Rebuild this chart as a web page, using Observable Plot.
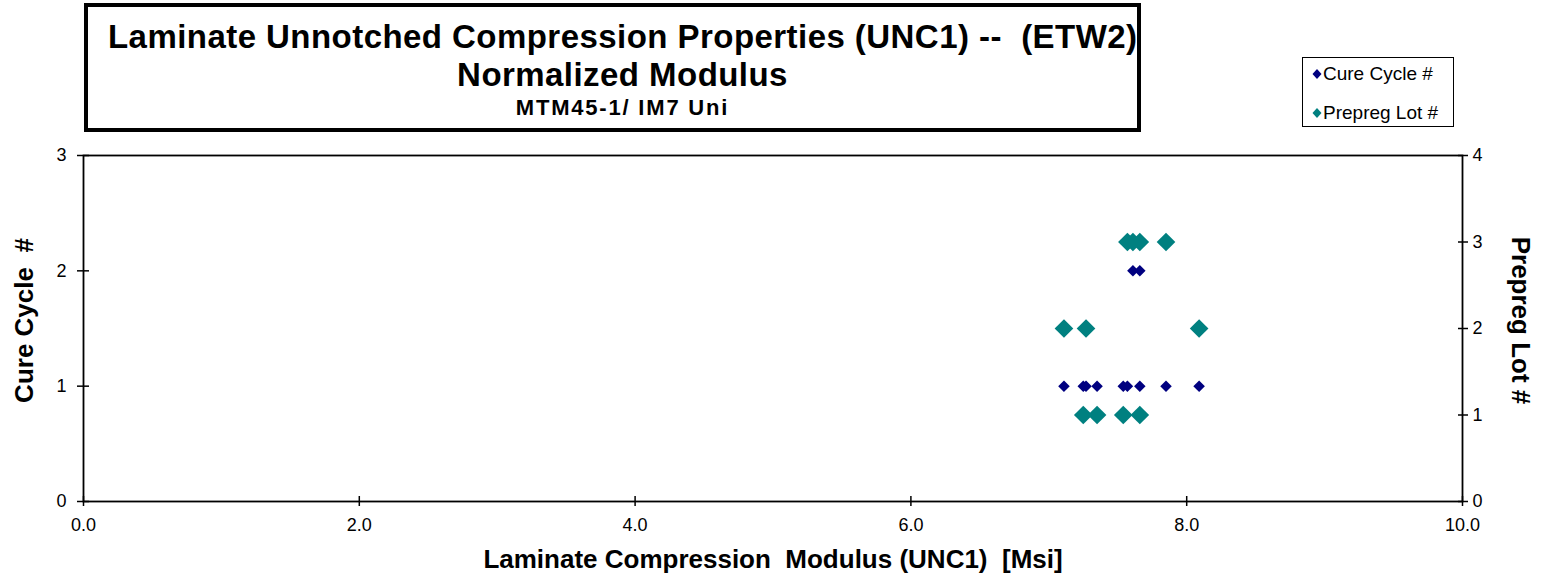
<!DOCTYPE html>
<html><head><meta charset="utf-8">
<script src="https://cdn.jsdelivr.net/npm/d3@7"></script>
<script src="https://cdn.jsdelivr.net/npm/@observablehq/plot@0.6"></script>
<style>
body{margin:0;background:#fff;font-family:"Liberation Sans",Arial,sans-serif;color:#000}
#wrap{position:relative;width:1547px;height:584px;overflow:hidden}
#chart{position:absolute;left:0;top:0}
#title{position:absolute;left:84px;top:3px;width:1049px;height:121px;border:4px solid #000;font-weight:bold;text-align:center}
#title div{position:absolute;left:20px;right:0;white-space:pre}
#t1{top:10px;font-size:33px;line-height:40px;letter-spacing:0.45px}
#t2{top:48px;font-size:33px;line-height:40px;letter-spacing:0.45px}
#t3{top:88px;font-size:22px;line-height:26px;letter-spacing:1.8px}
#legend{position:absolute;left:1302px;top:57px;width:150px;height:68px;border:1.5px solid #000;font-size:19px}
#legend .row{position:absolute;left:9px;white-space:pre;display:flex;align-items:center;gap:1px}
</style></head>
<body><div id="wrap">
<div id="title"><div id="t1">Laminate Unnotched Compression Properties (UNC1) --  (ETW2)</div><div id="t2">Normalized Modulus</div><div id="t3">MTM45-1/ IM7 Uni</div></div>
<div id="legend"></div>
</div>
<script>
// Data
const modulus    = [7.11, 7.25, 7.27, 7.35, 7.54, 7.57, 7.61, 7.66, 7.66, 7.85, 8.09];
const cureCycle  = [1, 1, 1, 1, 1, 1, 2, 2, 1, 1, 1];
const prepregLot = [2, 1, 2, 1, 1, 3, 3, 3, 1, 3, 2];
const xTicks = [0, 2, 4, 6, 8, 10];
const cureTicks = [0, 1, 2, 3];
const lotTicks = [0, 1, 2, 3, 4];
const seriesNames = ["Cure Cycle #", "Prepreg Lot #"];
const seriesColors = ["#000080", "#008080"];

const rows = modulus.map((m, i) => ({m, cure: cureCycle[i], lot: prepregLot[i]}));
const lotToY = v => v * 3 / 4;

const chart = Plot.plot({
  width: 1547, height: 584,
  marginTop: 155, marginBottom: 83, marginLeft: 83, marginRight: 85,
  x: {domain: [0, 10]},
  y: {domain: [0, 3]},
  style: {fontFamily: "'Liberation Sans', Arial, sans-serif", fontSize: "18px", color: "#000", background: "transparent"},
  marks: [
    Plot.frame({stroke: "#000", strokeWidth: 1.8}),
    // left axis
    Plot.axisY({anchor: "left", ticks: cureTicks, tickSize: 12, dx: 6, tickFormat: () => "", label: null, strokeWidth: 1.5}),
    Plot.axisY({anchor: "left", ticks: cureTicks, tickSize: 0, tickPadding: 17, tickFormat: d => String(d), label: null}),
    // right axis (prepreg lot)
    Plot.axisY({anchor: "right", ticks: lotTicks.map(lotToY), tickSize: 10, dx: -5, tickFormat: () => "", label: null, strokeWidth: 1.5}),
    Plot.axisY({anchor: "right", ticks: lotTicks.map(lotToY), tickSize: 0, tickPadding: 10, tickFormat: v => String(Math.round(v * 4 / 3)), label: null}),
    // x axis
    Plot.axisX({anchor: "bottom", ticks: xTicks, tickSize: 10, dy: -5, tickFormat: () => "", label: null, strokeWidth: 1.5}),
    Plot.axisX({anchor: "bottom", ticks: xTicks, tickSize: 0, tickPadding: 17, tickFormat: d3.format(".1f"), label: null}),
    // axis titles
    Plot.text(["Cure Cycle  #"], {frameAnchor: "left", textAnchor: "middle", dx: -59, dy: -8, rotate: -90, fontWeight: "bold", fontSize: 26, text: d => d}),
    Plot.text(["Prepreg Lot #"], {frameAnchor: "right", textAnchor: "middle", dx: 58, dy: -8, rotate: 90, fontWeight: "bold", fontSize: 26, text: d => d}),
    Plot.text(["Laminate Compression  Modulus (UNC1)  [Msi]"], {frameAnchor: "bottom", dy: 66, fontWeight: "bold", fontSize: 26, text: d => d}),
    // data
    Plot.dot(rows, {x: "m", y: "cure", symbol: "diamond2", r: 5.2, fill: seriesColors[0], stroke: "none"}),
    Plot.dot(rows, {x: "m", y: d => lotToY(d.lot), symbol: "diamond2", r: 8.4, fill: seriesColors[1], stroke: "none"})
  ]
});
chart.id = "chart";
document.getElementById("wrap").appendChild(chart);

// legend
const legend = document.getElementById("legend");
seriesNames.forEach((name, i) => {
  const row = document.createElement("div");
  row.className = "row";
  row.style.top = (i === 0 ? 5 : 44) + "px";
  row.innerHTML = `<svg width="10" height="12"><path d="M5,1L9.5,6L5,11L0.5,6Z" fill="${seriesColors[i]}"/></svg><span>${name}</span>`;
  legend.appendChild(row);
});
</script>
</body></html>
